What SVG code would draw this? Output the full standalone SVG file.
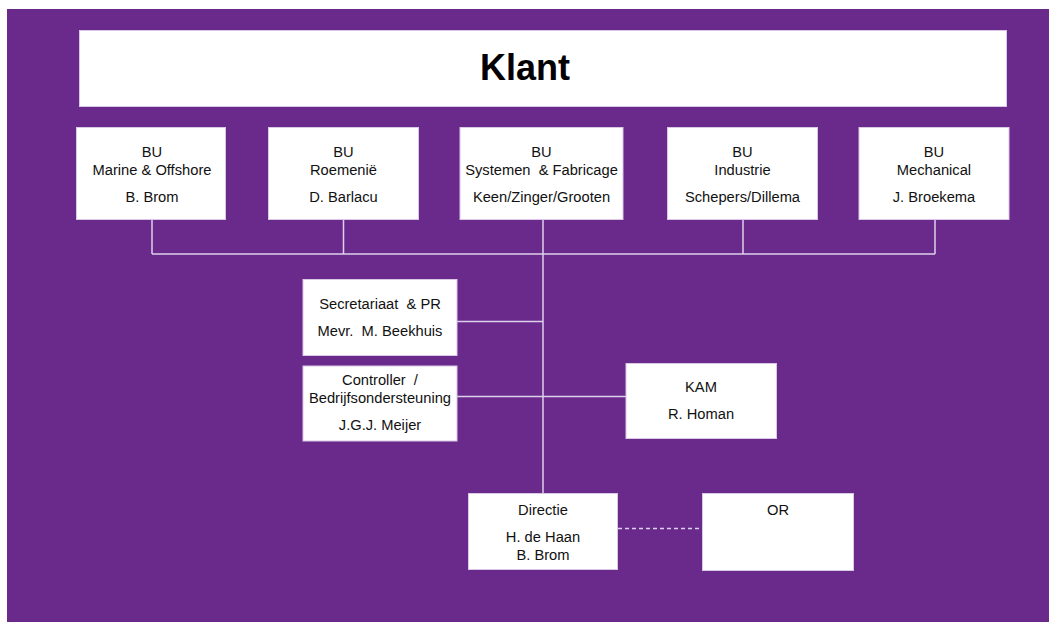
<svg xmlns="http://www.w3.org/2000/svg" width="1049" height="622" viewBox="0 0 1049 622">
<style>
.bg{fill:#6a2a8c}
.box{fill:#ffffff;stroke:#d8c8e4;stroke-width:1}
.t{font-family:"Liberation Sans",Arial,sans-serif;font-size:14.7px;fill:#111;text-anchor:middle;white-space:pre}
.title{font-family:"Liberation Sans",Arial,sans-serif;font-size:36px;font-weight:bold;fill:#000;text-anchor:middle}
.ln{stroke:#ddd0ea;stroke-width:1.5;fill:none}
.dash{stroke:#ddd0ea;stroke-width:1.5;fill:none;stroke-dasharray:4 3}
</style>
<rect class="bg" x="7" y="9" width="1042" height="613"/>
<g id="connectors">
<path class="ln" d="M152 219V254M343.5 219V254M543 219V254M743 219V254M935 219V254M152 254H935"/>
<path class="ln" d="M543 254V494"/>
<path class="ln" d="M457 321.5H543"/>
<path class="ln" d="M457 396.5H626"/>
<path class="dash" d="M618 528.5H702"/>
</g>
<g id="klant">
<rect class="box" x="79.5" y="30.5" width="927" height="76"/>
<text class="title" x="525" y="80">Klant</text>
</g>
<g id="bu-marine">
<rect class="box" x="76.5" y="127.5" width="149" height="92"/>
<text class="t" x="152" y="157">BU</text>
<text class="t" x="152" y="175">Marine &amp; Offshore</text>
<text class="t" x="152" y="201.5">B. Brom</text>
</g>
<g id="bu-roemenie">
<rect class="box" x="268.5" y="127.5" width="150" height="92"/>
<text class="t" x="343.5" y="157">BU</text>
<text class="t" x="343.5" y="175">Roemenië</text>
<text class="t" x="343.5" y="201.5">D. Barlacu</text>
</g>
<g id="bu-systemen">
<rect class="box" x="460" y="127.5" width="163" height="92"/>
<text class="t" x="541.5" y="157">BU</text>
<text class="t" x="541.5" y="175" xml:space="preserve">Systemen  &amp; Fabricage</text>
<text class="t" x="541.5" y="201.5">Keen/Zinger/Grooten</text>
</g>
<g id="bu-industrie">
<rect class="box" x="667.5" y="127.5" width="150" height="92"/>
<text class="t" x="742.5" y="157">BU</text>
<text class="t" x="742.5" y="175">Industrie</text>
<text class="t" x="742.5" y="201.5">Schepers/Dillema</text>
</g>
<g id="bu-mechanical">
<rect class="box" x="859" y="127.5" width="150" height="92"/>
<text class="t" x="934" y="157">BU</text>
<text class="t" x="934" y="175">Mechanical</text>
<text class="t" x="934" y="201.5">J. Broekema</text>
</g>
<g id="secretariaat">
<rect class="box" x="303" y="279.5" width="154" height="76"/>
<text class="t" x="380" y="309" xml:space="preserve">Secretariaat  &amp; PR</text>
<text class="t" x="380" y="336" xml:space="preserve">Mevr.  M. Beekhuis</text>
</g>
<g id="controller">
<rect class="box" x="303" y="366" width="154" height="75"/>
<text class="t" x="380" y="385" xml:space="preserve">Controller  /</text>
<text class="t" x="380" y="403">Bedrijfsondersteuning</text>
<text class="t" x="380" y="430">J.G.J. Meijer</text>
</g>
<g id="kam">
<rect class="box" x="626" y="363.5" width="150.5" height="75"/>
<text class="t" x="701" y="391.5">KAM</text>
<text class="t" x="701" y="418.5">R. Homan</text>
</g>
<g id="directie">
<rect class="box" x="468.5" y="493.5" width="149" height="76"/>
<text class="t" x="543" y="514.5">Directie</text>
<text class="t" x="543" y="541.5">H. de Haan</text>
<text class="t" x="543" y="559.5">B. Brom</text>
</g>
<g id="or">
<rect class="box" x="702.5" y="493.5" width="151" height="77"/>
<text class="t" x="778" y="514.5">OR</text>
</g>
</svg>
